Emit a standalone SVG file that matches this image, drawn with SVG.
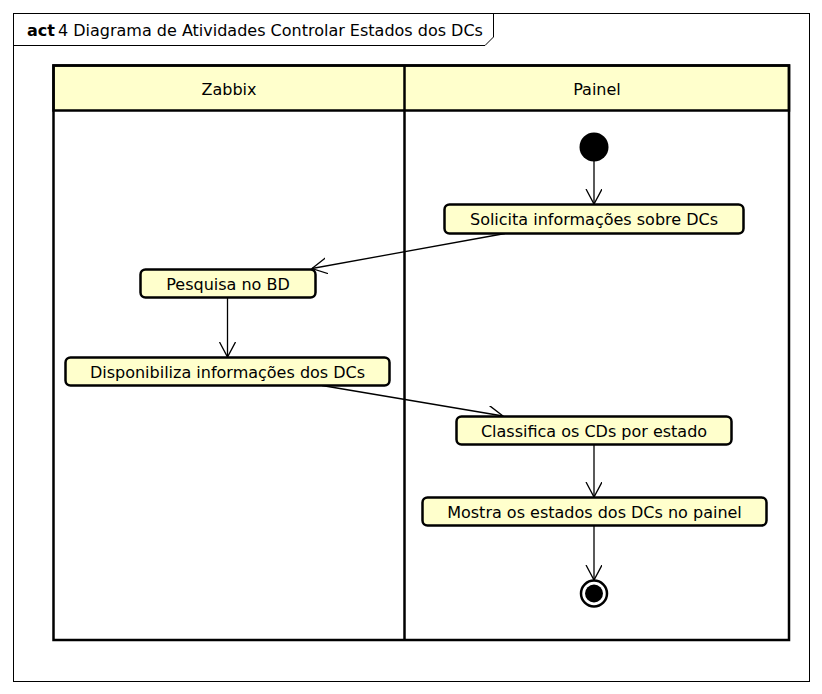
<svg xmlns="http://www.w3.org/2000/svg" width="822" height="694" viewBox="0 0 822 694">
<style>
text{font-family:"DejaVu Sans",sans-serif;font-size:16px;fill:#000}
.lbl{text-anchor:middle}
.act{fill:#ffffcc;stroke:#000;stroke-width:2.5}
.lane{fill:none;stroke:#000;stroke-width:2.5}
.hdr{fill:#ffffcc;stroke:#000;stroke-width:2.5}
.edge{fill:none;stroke:#000;stroke-width:1.3;marker-end:url(#arr)}
</style>
<defs>
<marker id="arr" markerWidth="20" markerHeight="20" refX="15" refY="8" orient="auto" markerUnits="userSpaceOnUse">
<path d="M0,0 L15,8 L0,16" fill="none" stroke="#000" stroke-width="1.3"/>
</marker>
</defs>
<rect x="0" y="0" width="822" height="694" fill="#fff"/>
<g id="frame">
<rect x="13.5" y="13.5" width="796" height="668" fill="none" stroke="#000" stroke-width="1"/>
<path d="M13.5,45.5 H485 L493.5,37 V13.5" fill="none" stroke="#000" stroke-width="1"/>
<text x="27" y="36"><tspan font-weight="bold">act</tspan><tspan dx="3">4 Diagrama de Atividades Controlar Estados dos DCs</tspan></text>
</g>
<g id="swimlanes">
<rect class="hdr" x="53.5" y="65.5" width="735.5" height="45"/>
<rect class="lane" x="53.5" y="65.5" width="735.5" height="574.5"/>
<line x1="404.5" y1="65.5" x2="404.5" y2="640" stroke="#000" stroke-width="2.5"/>
<text class="lbl" x="229" y="94.5">Zabbix</text>
<text class="lbl" x="597" y="94.5">Painel</text>
</g>
<g id="connectors">
<line class="edge" x1="594" y1="161" x2="594" y2="204"/>
<line class="edge" x1="505" y1="233.5" x2="312" y2="268.5"/>
<line class="edge" x1="227.5" y1="297.5" x2="227.5" y2="357"/>
<line class="edge" x1="322" y1="385.5" x2="503" y2="416"/>
<line class="edge" x1="594" y1="444.5" x2="594" y2="497"/>
<line class="edge" x1="594" y1="525.5" x2="594" y2="580"/>
</g>
<g id="start"><circle cx="594" cy="147" r="14.5" fill="#000"/></g>
<g id="n1"><rect class="act" x="444.5" y="204.5" width="299" height="29" rx="5"/><text class="lbl" x="594" y="225">Solicita informações sobre DCs</text></g>
<g id="n2"><rect class="act" x="140.5" y="269.5" width="175" height="28" rx="5"/><text class="lbl" x="228" y="289.5">Pesquisa no BD</text></g>
<g id="n3"><rect class="act" x="65.5" y="357.5" width="324" height="28" rx="5"/><text class="lbl" x="227.5" y="377.5">Disponibiliza informações dos DCs</text></g>
<g id="n4"><rect class="act" x="456.5" y="416.5" width="275" height="28" rx="5"/><text class="lbl" x="594" y="436.5">Classifica os CDs por estado</text></g>
<g id="n5"><rect class="act" x="422.5" y="497.5" width="344" height="28" rx="5"/><text class="lbl" x="594.5" y="517.5">Mostra os estados dos DCs no painel</text></g>
<g id="end"><circle cx="594" cy="593.5" r="13" fill="#fff" stroke="#000" stroke-width="2.5"/><circle cx="594" cy="593.5" r="9" fill="#000"/></g>
</svg>
